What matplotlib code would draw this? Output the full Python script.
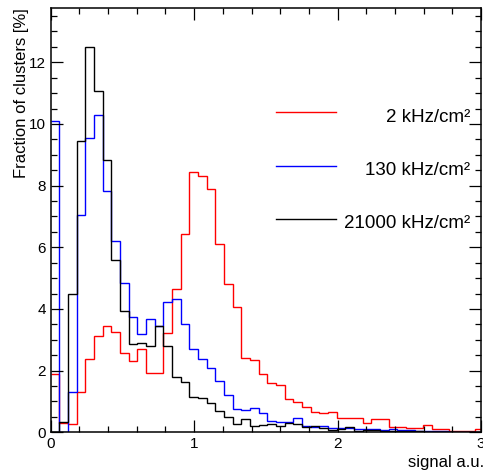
import numpy as np
import matplotlib
matplotlib.use("Agg")
import matplotlib.pyplot as plt
from matplotlib.ticker import MultipleLocator

plt.rcParams['font.family'] = ['Liberation Sans', 'DejaVu Sans']

# 50 bins of the signal distribution (fraction of clusters in %)
bin_width = 0.0604
n_bins = 50

frac_2k = [1.88, 0.30, 0.26, 1.30, 2.37, 3.13, 3.46, 3.24, 2.56, 2.32,
           2.70, 1.93, 1.93, 3.23, 4.65, 6.44, 8.43, 8.32, 7.88, 6.10,
           4.82, 4.07, 2.41, 2.34, 1.88, 1.59, 1.54, 1.09, 0.99, 0.82,
           0.66, 0.64, 0.67, 0.45, 0.45, 0.45, 0.29, 0.42, 0.42, 0.18,
           0.18, 0.15, 0.15, 0.24, 0.10, 0.10, 0.05, 0.05, 0.05, 0.10]

frac_130k = [10.1, 0.0, 1.32, 7.04, 9.55, 10.29, 7.83, 6.19, 4.85, 3.73,
             3.19, 3.66, 3.45, 4.21, 4.31, 3.50, 2.70, 2.37, 2.07, 1.67,
             1.21, 0.75, 0.72, 0.78, 0.62, 0.37, 0.32, 0.32, 0.47, 0.20,
             0.16, 0.22, 0.15, 0.15, 0.13, 0.12, 0.10, 0.10, 0.08, 0.10,
             0.07, 0.08, 0.05, 0.04, 0.03, 0.03, 0.02, 0.02, 0.02, 0.02]

frac_21000k = [0.0, 0.34, 4.48, 9.45, 12.5, 11.08, 8.82, 5.58, 3.95, 2.85,
               2.90, 2.81, 3.45, 2.81, 1.78, 1.64, 1.15, 1.10, 0.94, 0.70,
               0.51, 0.26, 0.43, 0.22, 0.25, 0.28, 0.20, 0.29, 0.26, 0.18,
               0.21, 0.14, 0.06, 0.10, 0.18, 0.05, 0.06, 0.08, 0.05, 0.04,
               0.03, 0.04, 0.03, 0.02, 0.02, 0.02, 0.01, 0.01, 0.01, 0.02]

labels = ["2 kHz/cm²", "130 kHz/cm²", "21000 kHz/cm²"]
colors = ["red", "blue", "black"]

edges = np.arange(n_bins + 1) * bin_width

fig = plt.figure(figsize=(4.83, 4.72), dpi=100)
ax = fig.add_axes([0.105, 0.0841, 0.891, 0.8983])

for vals, col in zip([frac_2k, frac_130k, frac_21000k], colors):
    ax.stairs(vals, edges, color=col, linewidth=1.0, baseline=None)

ax.set_xlim(0, 3)
ax.set_ylim(0, 13.75)

ax.xaxis.set_major_locator(MultipleLocator(1))
ax.xaxis.set_minor_locator(MultipleLocator(0.2))
ax.yaxis.set_major_locator(MultipleLocator(2))
ax.yaxis.set_minor_locator(MultipleLocator(0.5))
ax.tick_params(which='both', direction='in', top=True, right=True, width=0.9)
ax.tick_params(which='major', length=8.5, labelsize=11)
ax.tick_params(which='minor', length=4.3)
ax.tick_params(axis='x', pad=3.5)
ax.tick_params(axis='y', pad=3.5)
for sp in ax.spines.values():
    sp.set_linewidth(1.1)

ax.set_ylabel("Fraction of clusters [%]", fontsize=12, loc='top')
ax.yaxis.set_label_coords(-0.05, 1.0)
ax.set_xlabel("signal a.u.", fontsize=12, loc='right')
ax.xaxis.set_label_coords(1.008, -0.053)

# legend drawn ROOT style: line sample left, text right aligned
leg_y = [0.7547, 0.6288, 0.503]
for lab, col, y in zip(labels, colors, leg_y):
    ax.plot([0.5236, 0.663], [y, y], color=col, linewidth=1.0,
            transform=ax.transAxes, clip_on=False)
    ax.text(0.974, y - 0.022, lab, fontsize=13.5, ha='right', va='baseline',
            transform=ax.transAxes)

fig.savefig("out.png", dpi=100)
